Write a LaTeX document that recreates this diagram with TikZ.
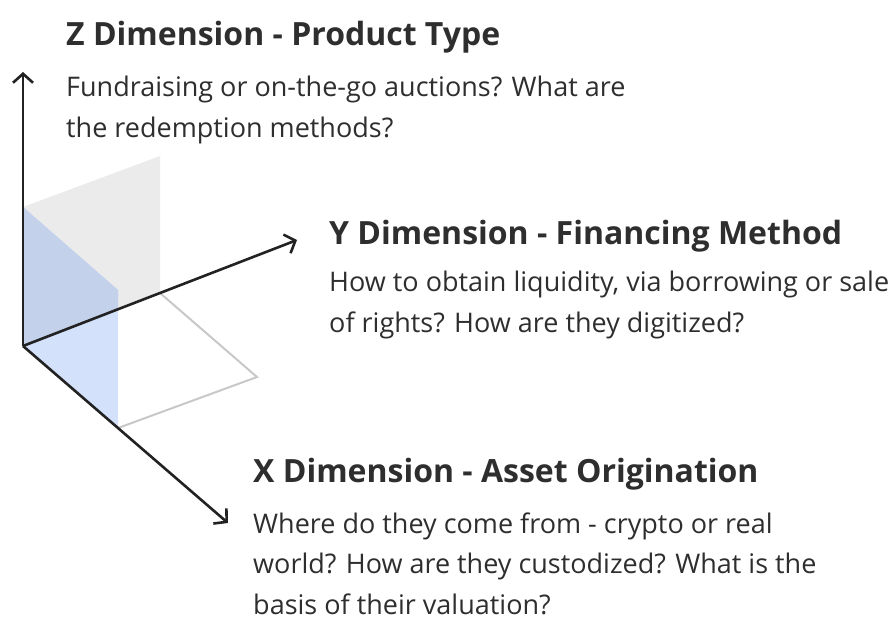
\documentclass[tikz,border=0pt]{standalone}
\usepackage{fontspec}
\setmainfont{Open Sans}
\usetikzlibrary{arrows.meta,positioning}
\definecolor{inkdark}{HTML}{222222}
\definecolor{textgray}{HTML}{2E2E2E}
\definecolor{planegray}{HTML}{EBEBEB}
\definecolor{planeblue}{HTML}{D3E1FB}
\definecolor{planemix}{HTML}{C4D1EB}
\definecolor{edgegray}{HTML}{C8C8C8}

\tikzset{
  axis/.style={draw=inkdark, line width=2.6pt, -{Straight Barb[length=9pt, width=20pt, line width=2.6pt]}},
  headtext/.style={anchor=base west, inner sep=0pt, font=\fontsize{32}{36}\selectfont\bfseries, text=textgray},
  bodytext/.style={anchor=base west, inner sep=0pt, align=left, font=\fontsize{27}{40.5}\selectfont, text=textgray}
}

\begin{document}
\begin{tikzpicture}[x=1pt, y=-1pt]
  \useasboundingbox (0,0) rectangle (894,619);

  % axis corners
  \coordinate (o) at (23,346);
  \coordinate (ztip) at (23,72);
  \coordinate (ytip) at (297,240);
  \coordinate (xtip) at (228,523);

  % planes
  \fill[planegray] (o) -- (23,207) -- (160,156) -- (160,293) -- cycle;
  \fill[planeblue] (o) -- (23,207) -- (118,290) -- (118,428) -- cycle;
  \fill[planemix] (23,207) -- (118,290) -- (118,309) -- (o) -- cycle;
  \draw[edgegray, line width=2pt] (118,428) -- (257,377) -- (160,293);

  % axes
  \draw[axis] (o) -- (ztip);
  \draw[axis] (o) -- (ytip);
  \draw[axis] (o) -- (xtip);

  % Z dimension (body anchored on its last line)
  \node[headtext] (zhead) at (66,45) {Z Dimension - Product Type};
  \node[bodytext] (zbody) at (66,137) {Fundraising or on-the-go auctions? What are\\the redemption methods?};

  % Y dimension
  \node[headtext] (yhead) at (329,244) {Y Dimension - Financing Method};
  \node[bodytext] (ybody) at (329,332) {How to obtain liquidity, via borrowing or sale\\of rights? How are they digitized?};

  % X dimension
  \node[headtext] (xhead) at (253,482) {X Dimension - Asset Origination};
  \node[bodytext] (xbody) at (253,614) {Where do they come from - crypto or real\\world? How are they custodized? What is the\\basis of their valuation?};
\end{tikzpicture}
\end{document}
